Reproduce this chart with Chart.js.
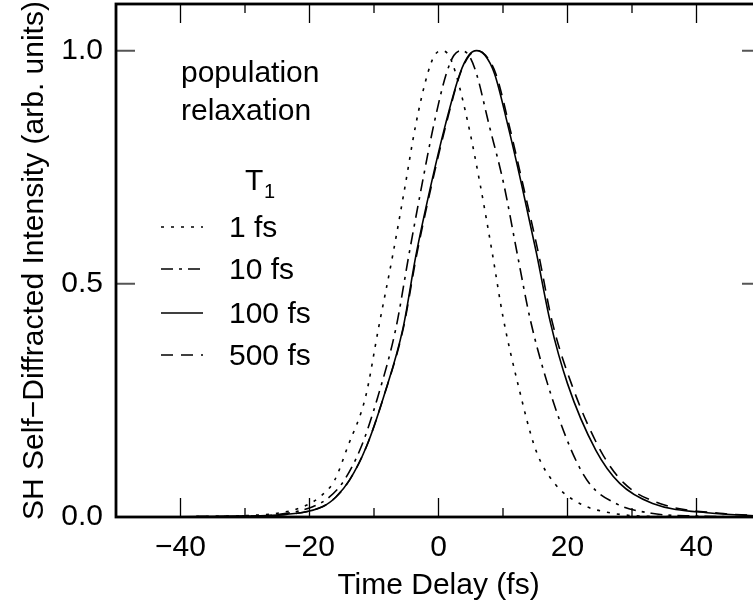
<!DOCTYPE html>
<html>
<head>
<meta charset="utf-8">
<script src="https://cdn.jsdelivr.net/npm/chart.js@4/dist/chart.umd.min.js"></script>
<style>
  html, body { margin: 0; padding: 0; background: #fff; overflow: hidden; }
  #wrap { width: 770px; height: 614px; }
</style>
</head>
<body>
<div id="wrap"><canvas id="sh-chart" width="770" height="614"></canvas></div>
<script>
'use strict';

/* ── データ ──────────────────────────────── */
const X_TICKS = [-40, -20, 0, 20, 40];
const X_MINOR = [-30, -10, 10, 30];
const Y_TICKS = [0, 0.5, 1.0];

const SERIES_LABELS = ['1 fs', '10 fs', '100 fs', '500 fs'];

// T1 = 1 fs（点線）
const T1_1_X = [-50, -40, -30, -25, -21, -18.4, -16.1, -14.1, -11.3, -9.3, -7.1, -5.3, -3.5, -1.7, -0.6, 0.5,
                1.6, 2.7, 4.6, 6.5, 8.35, 10.0, 12.3, 15.1, 18.0, 21.9, 27, 35, 50];
const T1_1_Y = [0, 0.0005, 0.003, 0.008, 0.022, 0.043, 0.079, 0.15, 0.258, 0.405, 0.561, 0.70, 0.843, 0.95, 0.99, 1.0,
                0.99, 0.95, 0.843, 0.71, 0.565, 0.429, 0.286, 0.143, 0.072, 0.029, 0.008, 0.001, 0];

// T1 = 10 fs（一点鎖線）
const T1_10_X = [-50, -40, -30, -25, -19.5, -16.9, -14.6, -12.0, -9.4, -6.6, -4.6, -2.6, -0.7, 1.2, 2.4, 3.5,
                 4.7, 5.9, 7.8, 10.1, 12.2, 14.2, 16.9, 20.6, 23.4, 27.5, 33, 40, 50];
const T1_10_Y = [0, 0.0005, 0.002, 0.005, 0.022, 0.043, 0.079, 0.15, 0.258, 0.405, 0.561, 0.71, 0.843, 0.95, 0.99, 1.0,
                 0.99, 0.95, 0.843, 0.715, 0.565, 0.425, 0.286, 0.143, 0.072, 0.029, 0.008, 0.002, 0];

// T1 = 100 fs（実線）
const T1_100_X = [-50, -40, -30, -25, -18, -15.9, -13.8, -11.2, -8.5, -5.5, -3.5, -1.2, 1.1, 3.3, 4.7, 5.9,
                  7.2, 8.7, 10.7, 12.85, 15.2, 17.3, 20.0, 24.4, 28.1, 33.2, 42.5, 50];
const T1_100_Y = [0, 0.0005, 0.002, 0.004, 0.022, 0.043, 0.079, 0.15, 0.258, 0.405, 0.561, 0.71, 0.843, 0.95, 0.99, 1.0,
                  0.99, 0.95, 0.843, 0.715, 0.565, 0.42, 0.286, 0.143, 0.072, 0.029, 0.008, 0.002];

// T1 = 500 fs（破線）
const T1_500_X = [-50, -40, -30, -25, -18, -15.9, -13.8, -11.2, -8.5, -5.45, -3.4, -1.1, 1.2, 3.35, 4.8, 6.0,
                  7.3, 8.9, 10.9, 13.05, 15.5, 17.6, 20.6, 25.1, 28.8, 34.3, 43.6, 50];
const T1_500_Y = [0, 0.0005, 0.002, 0.004, 0.022, 0.043, 0.079, 0.15, 0.258, 0.405, 0.561, 0.71, 0.843, 0.95, 0.99, 1.0,
                  0.99, 0.95, 0.843, 0.715, 0.565, 0.42, 0.286, 0.143, 0.072, 0.029, 0.008, 0.003];

/* ── 書式 ──────────────────────────────────── */
const FONT_FAMILY = '"Liberation Sans", Arial, Helvetica, sans-serif';
const FONT_SIZE = 30;
const DASHES = [[3, 7], [12, 6, 3, 6], [], [12, 8]];

const zip = (xs, ys) => xs.map((x, i) => ({ x, y: ys[i] }));
const minusFmt = v => (v < 0 ? '\u2212' + Math.abs(v) : String(v));

function mkDataset(i, xs, ys) {
  return {
    label: SERIES_LABELS[i],
    data: zip(xs, ys),
    borderColor: '#000',
    borderWidth: 1.6,
    borderDash: DASHES[i],
    pointRadius: 0,
    fill: false,
    cubicInterpolationMode: 'monotone',
  };
}

/* ── 枠・内向き目盛・凡例 ─────────────────────────── */
const framePlugin = {
  id: 'frame',
  afterDatasetsDraw(chart) {
    const { ctx, chartArea: a, scales: { x, y } } = chart;
    ctx.save();
    // x 目盛（上下・内向き）
    ctx.strokeStyle = '#000';
    ctx.lineWidth = 1.3;
    const xt = (vals, len) => vals.forEach(v => {
      const px = x.getPixelForValue(v);
      ctx.beginPath();
      ctx.moveTo(px, a.bottom); ctx.lineTo(px, a.bottom - len);
      ctx.moveTo(px, a.top);    ctx.lineTo(px, a.top + len);
      ctx.stroke();
    });
    xt(X_TICKS, 19);
    xt(X_MINOR, 9);
    // y 目盛（左右・内向き）
    ctx.strokeStyle = '#555';
    ctx.lineWidth = 2;
    Y_TICKS.forEach(v => {
      if (v === 0) return;
      const py = y.getPixelForValue(v);
      ctx.beginPath();
      ctx.moveTo(a.left, py);  ctx.lineTo(a.left + 19, py);
      ctx.moveTo(a.right, py); ctx.lineTo(a.right - 19, py);
      ctx.stroke();
    });
    // 枠
    ctx.strokeStyle = '#000';
    ctx.lineWidth = 2.8;
    ctx.strokeRect(a.left, a.top, a.right - a.left, a.bottom - a.top);

    // 凡例
    ctx.fillStyle = '#000';
    ctx.font = `${FONT_SIZE}px ${FONT_FAMILY}`;
    ctx.textBaseline = 'alphabetic';
    ctx.textAlign = 'left';
    ctx.fillText('population', 181, 82);
    ctx.fillText('relaxation', 181, 120);
    ctx.fillText('T', 245, 190);
    ctx.font = `20px ${FONT_FAMILY}`;
    ctx.fillText('1', 264, 198);
    ctx.font = `${FONT_SIZE}px ${FONT_FAMILY}`;
    const rowY = [227, 269, 313, 355];
    chart.data.datasets.forEach((ds, i) => {
      ctx.save();
      ctx.strokeStyle = ds.borderColor;
      ctx.lineWidth = ds.borderWidth;
      ctx.setLineDash(ds.borderDash);
      ctx.beginPath();
      ctx.moveTo(161, rowY[i]); ctx.lineTo(203, rowY[i]);
      ctx.stroke();
      ctx.restore();
      ctx.fillText(ds.label, 229, rowY[i] + 10);
    });
    ctx.restore();
  },
};

/* ── チャート ──────────────────────────────── */
new Chart(document.getElementById('sh-chart'), {
  type: 'line',
  data: {
    datasets: [
      mkDataset(0, T1_1_X, T1_1_Y),
      mkDataset(1, T1_10_X, T1_10_Y),
      mkDataset(2, T1_100_X, T1_100_Y),
      mkDataset(3, T1_500_X, T1_500_Y),
    ],
  },
  options: {
    responsive: false,
    devicePixelRatio: 1,
    animation: false,
    layout: { padding: { left: 0, top: 4, right: 9, bottom: 0 } },
    plugins: { legend: { display: false }, tooltip: { enabled: false } },
    scales: {
      x: {
        type: 'linear',
        min: -50, max: 50,
        afterBuildTicks: s => { s.ticks = X_TICKS.map(v => ({ value: v })); },
        afterFit: s => { s.height = 97; s.paddingLeft = 0; s.paddingRight = 0; },
        grid: { display: false, drawTicks: false },
        border: { display: false },
        ticks: {
          color: '#000', padding: 13, maxRotation: 0, autoSkip: false,
          font: { family: FONT_FAMILY, size: FONT_SIZE },
          callback: v => minusFmt(v),
        },
        title: {
          display: true, text: 'Time Delay (fs)', color: '#000',
          font: { family: FONT_FAMILY, size: FONT_SIZE },
          padding: { top: 0, bottom: 10 },
        },
      },
      y: {
        min: 0, max: 1.1,
        afterBuildTicks: s => { s.ticks = Y_TICKS.map(v => ({ value: v })); },
        afterFit: s => { s.width = 116; s.paddingTop = 0; s.paddingBottom = 0; },
        grid: { display: false, drawTicks: false },
        border: { display: false },
        ticks: {
          color: '#000', padding: 13,
          font: { family: FONT_FAMILY, size: FONT_SIZE },
          callback: v => Number(v).toFixed(1),
        },
        title: {
          display: true, text: 'SH Self\u2212Diffracted Intensity (arb. units)', color: '#000',
          font: { family: FONT_FAMILY, size: FONT_SIZE },
          padding: { top: 17, bottom: 0 },
        },
      },
    },
  },
  plugins: [framePlugin],
});
</script>
</body>
</html>
